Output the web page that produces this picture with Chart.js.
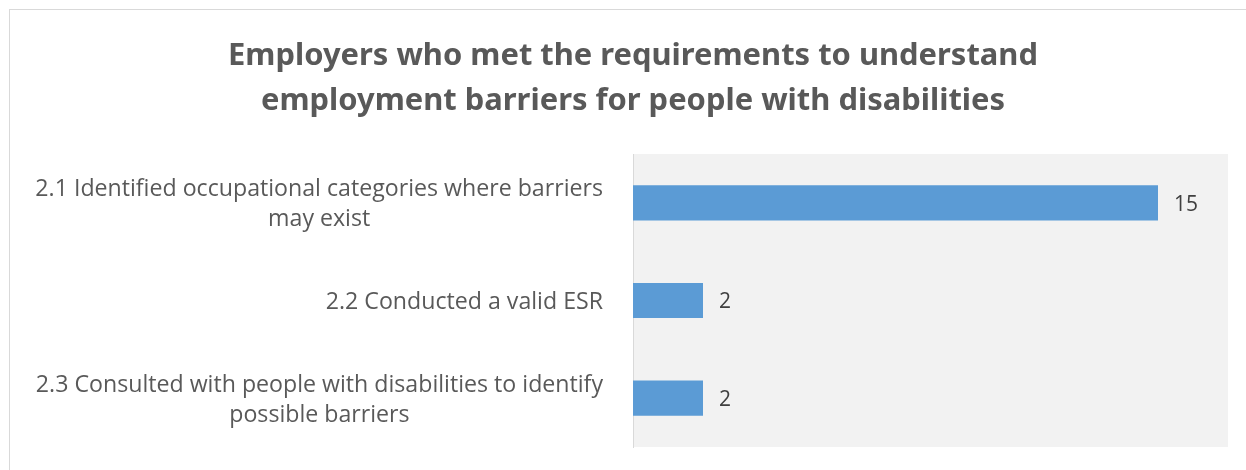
<!DOCTYPE html>
<html>
<head>
<meta charset="utf-8">
<script src="https://cdn.jsdelivr.net/npm/chart.js@4.4.1/dist/chart.umd.min.js"></script>
<style>
  html, body { margin: 0; padding: 0; background: #fff; }
  #wrap { position: relative; width: 1246px; height: 470px; overflow: hidden; }
  #frame { position: absolute; left: 9px; top: 9px; width: 1300px; height: 520px; border: 1px solid #d9d9d9; pointer-events: none; }
  canvas { position: absolute; left: 0; top: 0; }
</style>
</head>
<body>
<div id="wrap">
  <canvas id="chart" width="1246" height="470"></canvas>
  <div id="frame"></div>
</div>
<script>
// Requirement categories and employer counts
const categories = [
  ['2.1 Identified occupational categories where barriers', 'may exist'],
  ['2.2 Conducted a valid ESR'],
  ['2.3 Consulted with people with disabilities to identify', 'possible barriers']
];
const counts = [15, 2, 2];
const axisMax = 17;

const titleLines = [
  'Employers who met the requirements to understand',
  'employment barriers for people with disabilities'
];

const LABEL_FONT = "'Open Sans', 'Noto Sans', sans-serif";
const TITLE_FONT = "'Noto Sans', 'Open Sans', sans-serif";
const TEXT_GREY = '#595959';

// pick a font size so that `text` is about `width` px wide
function fitSize(ctx, text, width, font, weight) {
  ctx.font = weight + ' 100px ' + font;
  return 100 * width / ctx.measureText(text).width;
}

// grey plot background
const plotBackground = {
  id: 'plotBackground',
  beforeDraw(chart) {
    const { ctx, chartArea: a } = chart;
    ctx.save();
    ctx.fillStyle = '#f2f2f2';
    ctx.fillRect(a.left, a.top, a.right - a.left, a.bottom - a.top);
    ctx.restore();
  }
};

// two-line bold title centred on the frame
const chartTitle = {
  id: 'chartTitle',
  afterDraw(chart) {
    const { ctx } = chart;
    ctx.save();
    const size = fitSize(ctx, titleLines[0], 810, TITLE_FONT, 'bold');
    ctx.font = 'bold ' + size + 'px ' + TITLE_FONT;
    ctx.fillStyle = TEXT_GREY;
    ctx.textAlign = 'center';
    ctx.textBaseline = 'alphabetic';
    titleLines.forEach((l, i) => ctx.fillText(l, 633, 65 + i * 45));
    ctx.restore();
  }
};

// category labels: block right-aligned, lines centred within the block
const categoryLabels = {
  id: 'categoryLabels',
  afterDraw(chart) {
    const { ctx } = chart;
    const yScale = chart.scales.y;
    const rightEdge = 603;
    const lineGap = 30;
    ctx.save();
    const size = fitSize(ctx, categories[0][0], 568, LABEL_FONT, 'normal');
    ctx.font = size + 'px ' + LABEL_FONT;
    ctx.fillStyle = TEXT_GREY;
    ctx.textAlign = 'center';
    ctx.textBaseline = 'middle';
    categories.forEach((lines, i) => {
      const widest = Math.max(...lines.map(l => ctx.measureText(l).width));
      const cx = rightEdge - widest / 2;
      const cy = yScale.getPixelForValue(i) + 2;
      const y0 = cy - (lines.length - 1) * lineGap / 2;
      lines.forEach((l, j) => ctx.fillText(l, cx, y0 + j * lineGap));
    });
    ctx.restore();
  }
};

// value labels to the right of each bar
const valueLabels = {
  id: 'valueLabels',
  afterDatasetsDraw(chart) {
    const { ctx } = chart;
    const meta = chart.getDatasetMeta(0);
    ctx.save();
    ctx.font = '21px ' + LABEL_FONT;
    ctx.fillStyle = '#404040';
    ctx.textAlign = 'left';
    ctx.textBaseline = 'middle';
    meta.data.forEach((bar, i) => {
      ctx.fillText(String(counts[i]), bar.x + 16, bar.y + 2);
    });
    ctx.restore();
  }
};

new Chart(document.getElementById('chart'), {
  type: 'bar',
  data: {
    labels: categories,
    datasets: [{
      data: counts,
      backgroundColor: '#5b9bd5',
      borderWidth: 0,
      barPercentage: 0.36,
      categoryPercentage: 1.0
    }]
  },
  options: {
    indexAxis: 'y',
    responsive: false,
    animation: false,
    layout: { padding: { left: 633, right: 18, top: 154, bottom: 23 } },
    scales: {
      x: {
        display: false,
        min: 0,
        max: axisMax
      },
      y: {
        display: true,
        ticks: { display: false },
        grid: { display: false, drawTicks: false },
        border: { display: true, color: '#d9d9d9', width: 1 }
      }
    },
    plugins: {
      legend: { display: false },
      tooltip: { enabled: false },
      title: { display: false }
    }
  },
  plugins: [plotBackground, chartTitle, categoryLabels, valueLabels]
});
</script>
</body>
</html>
